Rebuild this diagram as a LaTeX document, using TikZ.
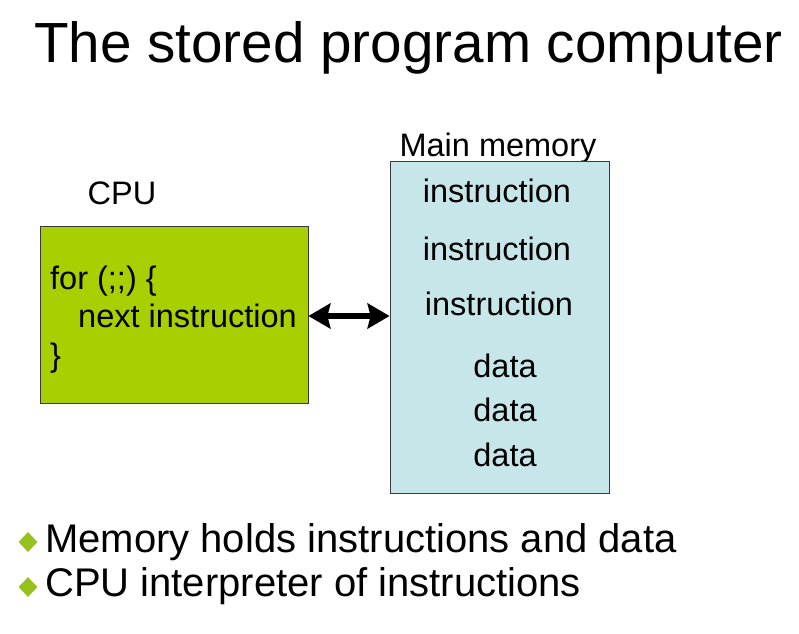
\documentclass[tikz,border=0pt]{standalone}
\usepackage{fontspec}
\setmainfont{Liberation Sans}
\usetikzlibrary{arrows.meta,shapes.geometric}
\definecolor{cpugreen}{HTML}{A8CF00}
\definecolor{memblue}{HTML}{C6E6EA}
\definecolor{bulletgreen}{HTML}{96C11F}
\definecolor{edgegray}{HTML}{3A3A3A}
\tikzset{
  box/.style={draw=edgegray, line width=0.8pt, rectangle, inner sep=0pt},
  cpubox/.style={box, fill=cpugreen, minimum width=268pt, minimum height=177pt},
  membox/.style={box, fill=memblue, minimum width=219pt, minimum height=332pt},
  lbl/.style={inner sep=0pt, anchor=base, font=\fontsize{32.5}{38}\selectfont},
  lbll/.style={lbl, anchor=base west},
  titletext/.style={inner sep=0pt, anchor=base west, font=\fontsize{56.6}{66}\selectfont},
  bullettext/.style={inner sep=0pt, anchor=base west, font=\fontsize{40}{46}\selectfont},
  bulletmark/.style={diamond, fill=bulletgreen, inner sep=0pt, minimum width=19pt, minimum height=20pt},
  dbl/.style={line width=6pt, {Stealth[length=22pt,width=25pt,inset=3pt]}-{Stealth[length=22pt,width=25pt,inset=3pt]}}
}
\begin{document}
\begin{tikzpicture}[x=1pt,y=-1pt]
\path[use as bounding box, fill=white] (0,0) rectangle (799,633);
\node[titletext] (title) at (34,62) {The stored program computer};
% CPU
\node[lbl] (cpulbl) at (122,204) {CPU};
\node[cpubox] (cpu) at (174,314.5) {};
\node[lbll] (for) at (50,289) {for (;;) \{};
\node[lbll] (next) at (78,327) {next instruction};
\node[lbll] (close) at (50,366) {\}};
% Memory
\node[lbl] (memlbl) at (498,156) {Main memory};
\node[membox] (mem) at (499.5,327) {};
\node[lbl] (i1) at (497,202) {instruction};
\node[lbl] (i2) at (497,260) {instruction};
\node[lbl] (i3) at (499,315) {instruction};
\node[lbl] (d1) at (505,377) {data};
\node[lbl] (d2) at (505,421) {data};
\node[lbl] (d3) at (505,466) {data};
% arrow
\coordinate (ar) at (0,316);
\draw[dbl] (cpu.east |- ar) -- (mem.west |- ar);
% bullets
\node[bulletmark] (b1) at (28,542) {};
\node[bullettext] (t1) at (45,552) {Memory holds instructions and data};
\node[bulletmark] (b2) at (28,587) {};
\node[bullettext] (t2) at (45,596) {CPU interpreter of instructions};
\end{tikzpicture}
\end{document}
